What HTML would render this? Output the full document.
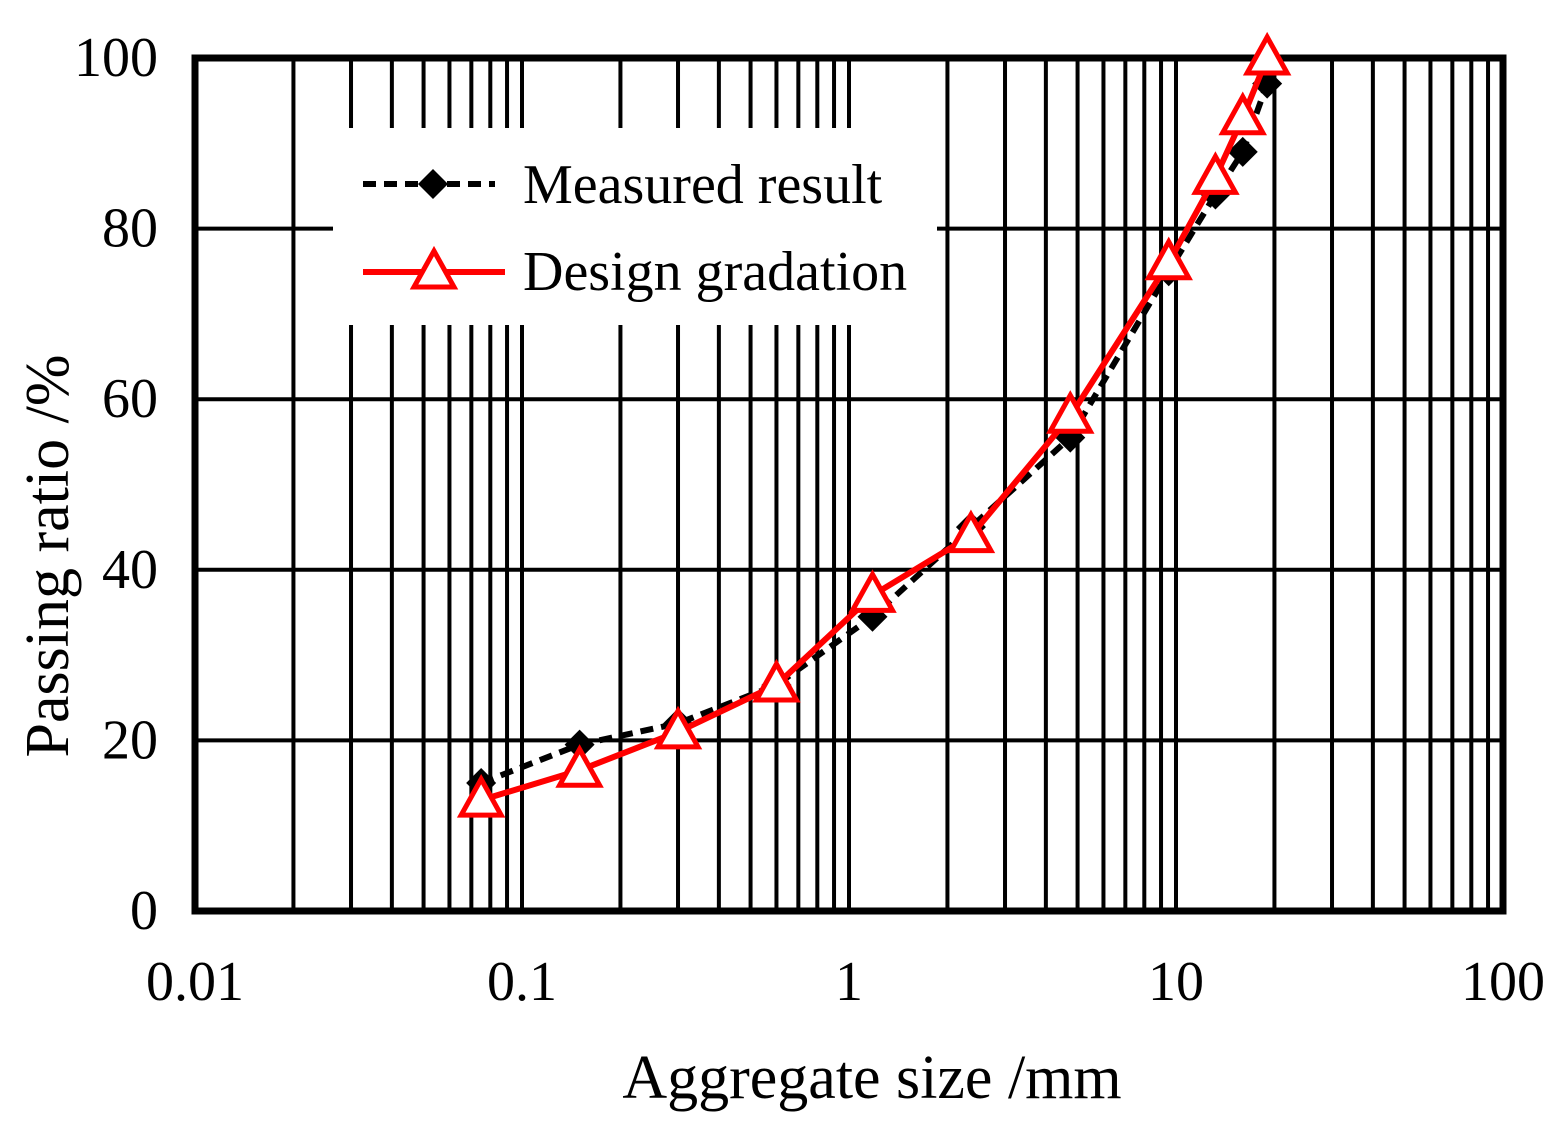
<!DOCTYPE html>
<html><head><meta charset="utf-8"><style>body{margin:0;background:#fff}svg{display:block}</style></head>
<body>
<svg id="s" width="1568" height="1130" xmlns="http://www.w3.org/2000/svg" font-family="Liberation Serif, serif"></svg>
<script>
const s=document.getElementById('s');
const X=v=>195+327*(Math.log10(v)+2), Y=p=>911-p*8.53;
let h='';
for(let d=-2;d<2;d++)for(let k=1;k<10;k++){const x=X(k*Math.pow(10,d));h+=`<line x1="${x}" y1="58" x2="${x}" y2="911" stroke="#000" stroke-width="4"/>`;}
for(let p=20;p<100;p+=20)h+=`<line x1="195" y1="${Y(p)}" x2="1503" y2="${Y(p)}" stroke="#000" stroke-width="4"/>`;
h+=`<rect x="333" y="128" width="604" height="197" fill="#fff"/>`;
h+=`<rect x="195" y="58" width="1308" height="853" fill="none" stroke="#000" stroke-width="7"/>`;
for(let p=0;p<=100;p+=20)h+=`<text x="158" y="${Y(p)+18}" font-size="56" text-anchor="end">${p}</text>`;
[['0.01',0.01],['0.1',0.1],['1',1],['10',10],['100',100]].forEach(([t,v])=>h+=`<text x="${X(v)}" y="1000" font-size="56" text-anchor="middle">${t}</text>`);
h+=`<text x="872" y="1098" font-size="62" text-anchor="middle">Aggregate size /mm</text>`;
h+=`<text transform="translate(68,556) rotate(-90)" font-size="62" text-anchor="middle">Passing ratio /%</text>`;
const sz=[0.075,0.15,0.3,0.6,1.18,2.36,4.75,9.5,13.2,16,19];
const m=[15,19.5,22,26.5,34.5,45,55.5,75,84,89,97];
const d=[13,16.5,21,26.5,37,44,58,76,86,93,100];
const pm=sz.map((v,i)=>[X(v),Y(m[i])]), pd=sz.map((v,i)=>[X(v),Y(d[i])]);
const dia=(x,y)=>`<polygon points="${x},${y-15} ${x+15},${y} ${x},${y+15} ${x-15},${y}" fill="#000"/>`;
const tri=(x,y)=>`<polygon points="${x},${y-21} ${x+20},${y+15} ${x-20},${y+15}" fill="#fff" stroke="#f00" stroke-width="5"/>`;
h+=`<polyline points="${pm.map(p=>p.join(',')).join(' ')}" fill="none" stroke="#000" stroke-width="6" stroke-dasharray="13,8"/>`;
pm.forEach(p=>h+=dia(...p));
h+=`<polyline points="${pd.map(p=>p.join(',')).join(' ')}" fill="none" stroke="#f00" stroke-width="6"/>`;
pd.forEach(p=>h+=tri(...p));
h+=`<line x1="363" y1="184" x2="495" y2="184" stroke="#000" stroke-width="6" stroke-dasharray="13,8"/>`+dia(433,184);
h+=`<text x="523" y="203" font-size="56">Measured result</text>`;
h+=`<line x1="363" y1="272" x2="505" y2="272" stroke="#f00" stroke-width="6"/>`+tri(434,272);
h+=`<text x="523" y="290" font-size="56">Design gradation</text>`;
s.innerHTML=h;
</script>
</body></html>
